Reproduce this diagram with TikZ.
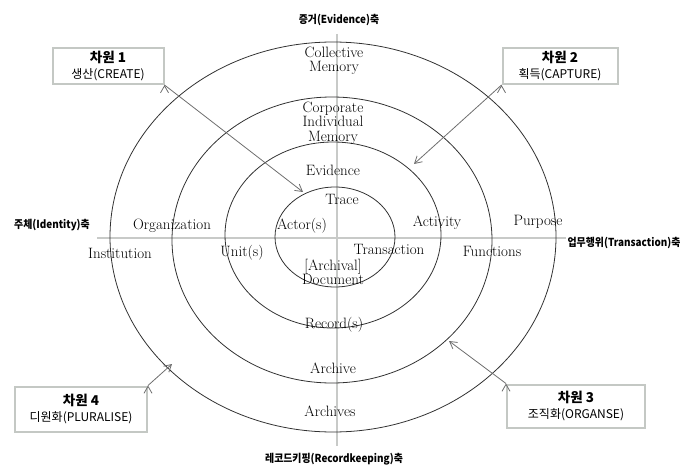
\documentclass[tikz,border=0pt]{standalone}
\usepackage{fontspec}
\usepackage{tikz}
\usetikzlibrary{arrows.meta}
\newfontfamily\kofont{Noto Sans CJK KR}
\definecolor{axisgray}{RGB}{200,202,200}
\definecolor{ringgray}{RGB}{50,50,50}
\definecolor{boxgray}{RGB}{196,200,196}
\definecolor{arrowgray}{RGB}{110,110,110}

\begin{document}
\begin{tikzpicture}[x=1pt,y=-1pt,
        lbl/.style={font=\fontsize{15}{14.5}\selectfont, align=center, inner sep=0pt},
        axislbl/.style={font=\kofont\bfseries\fontsize{11}{12}\selectfont, inner sep=0pt, xscale=0.9},
        dimbox/.style={draw=boxgray, line width=2pt, fill=white, align=center,
            font=\kofont\fontsize{12}{16}\selectfont, inner sep=2pt}]
        \useasboundingbox (0,0) rectangle (680,468);

        % axes
        \draw[axisgray, line width=1.6pt] (97,238) -- (566,238);
        \draw[axisgray, line width=1.6pt] (337,34) -- (337,446);

        % rings
        \draw[ringgray, line width=0.8pt] (333,237) ellipse (223 and 195);
        \draw[ringgray, line width=0.8pt] (332,240) ellipse (160 and 143);
        \draw[ringgray, line width=0.8pt] (333,235) ellipse (108 and 93);
        \draw[ringgray, line width=0.8pt] (335,237) ellipse (60 and 50);

        % axis names
        \node[axislbl] (evi) at (339,20) {증거(Evidence)축};
        \node[axislbl] (ide) at (52,225) {주체(Identity)축};
        \node[axislbl] (tra) at (624,243) {업무행위(Transaction)축};
        \node[axislbl] (rec) at (334,459) {레코드키핑(Recordkeeping)축};

        % ring labels
        \node[lbl] (collmem) at (334,61) {Collective\\Memory};
        \node[lbl] (corpmem) at (333,123) {Corporate\\Individual\\Memory};
        \node[lbl] (evidence) at (333,170) {Evidence};
        \node[lbl] (trace) at (342,199) {Trace};
        \node[lbl] (actor) at (302,226) {Actor(s)};
        \node[lbl] (activity) at (437,223) {Activity};
        \node[lbl] (purpose) at (538,222) {Purpose};
        \node[lbl] (organization) at (172,226) {Organization};
        \node[lbl] (institution) at (120,253) {Institution};
        \node[lbl] (unit) at (242,253) {Unit(s)};
        \node[lbl] (transaction) at (389,249) {Transaction};
        \node[lbl] (functions) at (492,251) {Functions};
        \node[lbl] (document) at (333,272) {[Archival]\\Document};
        \node[lbl] (record) at (334,325) {Record(s)};
        \node[lbl] (archive) at (333,368) {Archive};
        \node[lbl] (archives) at (330,411) {Archives};

        % dimensions
        \node[dimbox, minimum width=111, minimum height=36] (dim1) at (108,66)
            {{\bfseries\fontsize{13.5}{16}\selectfont 차원 1}\\생산(CREATE)};
        \node[dimbox, minimum width=115, minimum height=36] (dim2) at (560,66)
            {{\bfseries\fontsize{13.5}{16}\selectfont 차원 2}\\획득(CAPTURE)};
        \node[dimbox, minimum width=138, minimum height=43] (dim3) at (576,406)
            {{\bfseries\fontsize{13.5}{16}\selectfont 차원 3}\\조직화(ORGANSE)};
        \node[dimbox, minimum width=132, minimum height=45] (dim4) at (81,409)
            {{\bfseries\fontsize{13.5}{16}\selectfont 차원 4}\\디원화(PLURALISE)};

        \coordinate (tip1) at (303,192);
        \coordinate (tip2) at (414,164);
        \coordinate (tip3) at (449,341);
        \coordinate (tip4) at (172,364);

        \path [-{Straight Barb[length=7pt,width=8pt]}, draw=arrowgray, line width=0.8pt](dim1.south east) edge (tip1);
        \path [-{Straight Barb[length=7pt,width=8pt]}, draw=arrowgray, line width=0.8pt](dim2.south west) edge (tip2);
        \path [-{Straight Barb[length=7pt,width=8pt]}, draw=arrowgray, line width=0.8pt](dim3.north west) edge (tip3);
        \path [-{Straight Barb[length=7pt,width=8pt]}, draw=arrowgray, line width=0.8pt](dim4.north east) edge (tip4);
    \end{tikzpicture}
\end{document}
